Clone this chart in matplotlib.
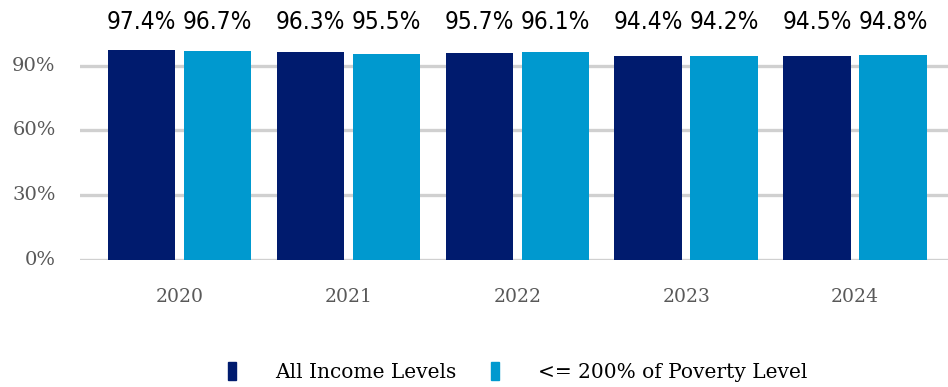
import matplotlib.pyplot as plt
import numpy as np
from matplotlib.patches import Patch

years = ['2020', '2021', '2022', '2023', '2024']
all_income = [97.4, 96.3, 95.7, 94.4, 94.5]
poverty = [96.7, 95.5, 96.1, 94.2, 94.8]
yticks = [0, 30, 60, 90]

dark = '#001b6e'
light = '#0099cf'

fig = plt.figure(figsize=(9.48, 3.87), dpi=100)
ax = fig.add_axes([80/948, 127/387, 868/948, 242/387])

x = np.arange(len(years))
w = 0.40
off = 0.225
b1 = ax.bar(x - off, all_income, w, color=dark, zorder=3)
b2 = ax.bar(x + off, poverty, w, color=light, zorder=3)

for bars, vals in [(b1, all_income), (b2, poverty)]:
    for r, v in zip(bars, vals):
        ax.text(r.get_x() + r.get_width()/2, 104.5, f'{v}%', ha='center', va='bottom',
                family='DejaVu Sans', fontstretch='condensed', fontsize=17.5, color='black')

ax.set_xlim(-0.59, 4.55)
ax.set_ylim(0, 112)
ax.set_xticks(x)
ax.set_xticklabels(years, family='DejaVu Serif', fontsize=13.5, color='#595959')
ax.tick_params(axis='both', length=0)
ax.tick_params(axis='x', pad=20)
for t in yticks:
    ax.axhline(t, color='#d0d0d0', lw=2.4, zorder=1)
    ax.text(-0.028, t, f'{t}%', transform=ax.get_yaxis_transform(), ha='right', va='center',
            family='DejaVu Serif', fontsize=14, color='#595959')
ax.set_yticks([])
for s in ax.spines.values():
    s.set_visible(False)

handles = [Patch(color=dark), Patch(color=light)]
fig.legend(handles, ['All Income Levels', '<= 200% of Poverty Level'], loc='center',
           bbox_to_anchor=(518/948, 1 - 372/387), ncol=2, frameon=False,
           prop={'family': 'DejaVu Serif', 'size': 14.5}, handlelength=0.4, handleheight=1.0,
           handletextpad=1.95, columnspacing=1.7)

fig.savefig('out.png', dpi=100)
